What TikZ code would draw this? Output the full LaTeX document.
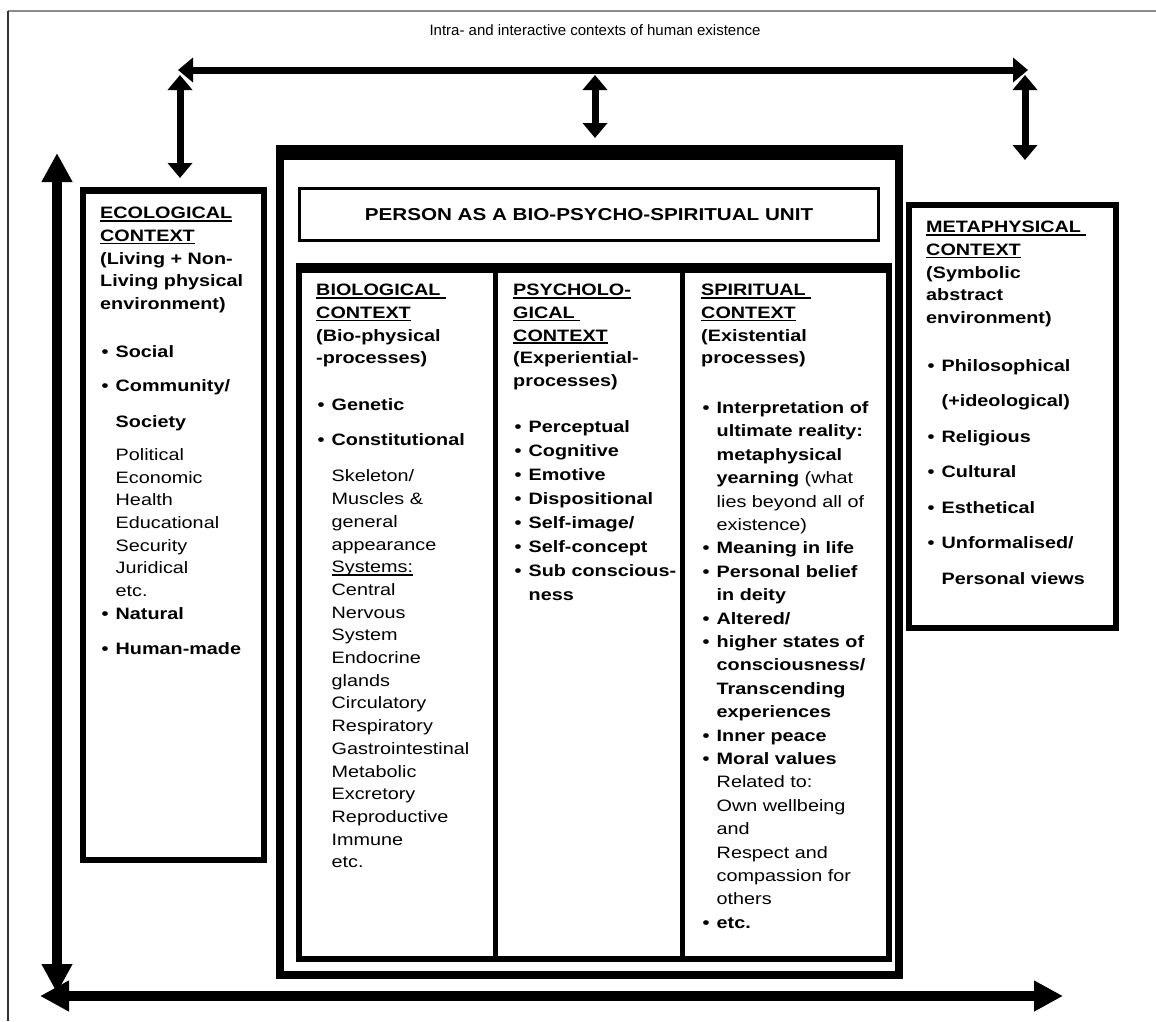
\documentclass[tikz,border=0pt]{standalone}
\usepackage{fontspec}
\setmainfont{Liberation Sans}[FakeStretch=1.2]
\newfontfamily\narrowsans{Liberation Sans}
\usetikzlibrary{arrows.meta}

\newcommand\ulhead[1]{\setbox0\hbox{#1}\rlap{\rule[-2.8pt]{\wd0}{1.5pt}}\box0}
\newcommand\bul{\makebox[15.5pt][l]{\hspace{1.5pt}\textbullet}}
\newcommand\itemind{\hspace*{15.5pt}}
\newcommand\regtxt[1]{{\mdseries #1}}

\begin{document}
\begin{tikzpicture}[
						x=1pt, y=-1pt,
						ctx/.style={anchor=north west, inner sep=0pt, align=left,
							font=\bfseries\fontsize{16.5}{22.7}\selectfont},
						smallarrow/.style={{Triangle[width=24pt,length=15pt]}-{Triangle[width=24pt,length=15pt]}, line width=7pt},
						bigarrow/.style={{Triangle[width=29pt,length=29pt]}-{Triangle[width=29pt,length=29pt]}, line width=10.5pt}
						]
						
						\useasboundingbox (0,0) rectangle (1156,1021);
						\draw[black!45, line width=2pt] (8,11) -- (1156,11);
						\draw[black!80, line width=1.2pt] (8,11) -- (8,1021);
						
						\node[font=\narrowsans\fontsize{15}{18}\selectfont] (heading) at (595,30) {Intra- and interactive contexts of human existence};
						
						% arrows
						\coordinate (topL) at (178,70);
						\coordinate (topR) at (1028,70);
						\coordinate (ecoT) at (180,75);
						\coordinate (ecoB) at (180,178);
						\coordinate (midT) at (595,75);
						\coordinate (midB) at (595,138);
						\coordinate (metT) at (1025,75);
						\coordinate (metB) at (1025,160);
						\coordinate (axisT) at (57,153);
						\coordinate (axisB) at (57,993);
						\coordinate (axisL) at (40,996);
						\coordinate (axisR) at (1063,996);
						
						\draw[smallarrow] (topL) -- (topR);
						\draw[smallarrow] (ecoT) -- (ecoB);
						\draw[smallarrow] (midT) -- (midB);
						\draw[smallarrow] (metT) -- (metB);
						\draw[bigarrow] (axisT) -- (axisB);
						\draw[bigarrow] (axisL) -- (axisR);
						
						% boxes
						\draw[line width=6.5pt] (83,190.5) rectangle (264,860);
						\draw[line width=6pt] (909,205) rectangle (1116,628);
						\draw[line width=8pt] (280,150) rectangle (899,975);
						\fill (276,145) rectangle (903,160);
						\draw[line width=3pt] (299.5,188.5) rectangle (878.5,240.5);
						\draw[line width=6pt] (299,268) rectangle (888.5,959);
						\fill (296,263) rectangle (892,273);
						\draw[line width=5pt] (495.5,268) -- (495.5,959);
						\draw[line width=5pt] (682.5,268) -- (682.5,959);
						
						\node[font=\bfseries\fontsize{17.2}{20}\selectfont] (unit) at (589,215) {PERSON AS A BIO-PSYCHO-SPIRITUAL UNIT};
						
						\node[ctx] (eco) at (100,207) {\ulhead{ECOLOGICAL}\\
							\ulhead{CONTEXT}\\
							(Living + Non-\\
							Living physical\\
							environment)\\[25pt]
							\bul Social\\[12pt]
							\bul Community/\\[13pt]
							\itemind Society\\[10pt]
							\itemind\regtxt{Political}\\
							\itemind\regtxt{Economic}\\
							\itemind\regtxt{Health}\\
							\itemind\regtxt{Educational}\\
							\itemind\regtxt{Security}\\
							\itemind\regtxt{Juridical}\\
							\itemind\regtxt{etc.}\\
							\bul Natural\\[13pt]
							\bul Human-made};
						
						\node[ctx] (bio) at (316,284) {\ulhead{BIOLOGICAL\ }\\
							\ulhead{CONTEXT}\\
							(Bio-physical\\
							-processes)\\[24pt]
							\bul Genetic\\[12pt]
							\bul Constitutional\\[14pt]
							\itemind\regtxt{Skeleton/}\\
							\itemind\regtxt{Muscles \&}\\
							\itemind\regtxt{general}\\
							\itemind\regtxt{appearance}\\
							\itemind\regtxt{\ulhead{Systems:}}\\
							\itemind\regtxt{Central}\\
							\itemind\regtxt{Nervous}\\
							\itemind\regtxt{System}\\
							\itemind\regtxt{Endocrine}\\
							\itemind\regtxt{glands}\\
							\itemind\regtxt{Circulatory}\\
							\itemind\regtxt{Respiratory}\\
							\itemind\regtxt{Gastrointestinal}\\
							\itemind\regtxt{Metabolic}\\
							\itemind\regtxt{Excretory}\\
							\itemind\regtxt{Reproductive}\\
							\itemind\regtxt{Immune}\\
							\itemind\regtxt{etc.}};
						
						\node[ctx] (psy) at (513,284) {\ulhead{PSYCHOLO-}\\
							\ulhead{GICAL\ }\\
							\ulhead{CONTEXT}\\
							(Experiential-\\
							processes)\\[23pt]
							\bul Perceptual\\[1.4pt]
							\bul Cognitive\\[1.4pt]
							\bul Emotive\\[1.4pt]
							\bul Dispositional\\[1.4pt]
							\bul Self-image/\\[1.4pt]
							\bul Self-concept\\[1.4pt]
							\bul Sub conscious-\\[1.4pt]
							\itemind ness};
						
						\node[ctx] (spi) at (701,284) {\ulhead{SPIRITUAL\ }\\
							\ulhead{CONTEXT}\\
							(Existential\\
							processes)\\[27pt]
							\bul Interpretation of\\[0.7pt]
							\itemind ultimate reality:\\[0.7pt]
							\itemind metaphysical\\[0.7pt]
							\itemind yearning \regtxt{(what}\\[0.7pt]
							\itemind\regtxt{lies beyond all of}\\[0.7pt]
							\itemind\regtxt{existence)}\\[0.7pt]
							\bul Meaning in life\\[0.7pt]
							\bul Personal belief\\[0.7pt]
							\itemind in deity\\[0.7pt]
							\bul Altered/\\[0.7pt]
							\bul higher states of\\[0.7pt]
							\itemind consciousness/\\[0.7pt]
							\itemind Transcending\\[0.7pt]
							\itemind experiences\\[0.7pt]
							\bul Inner peace\\[0.7pt]
							\bul Moral values\\[0.7pt]
							\itemind\regtxt{Related to:}\\[0.7pt]
							\itemind\regtxt{Own wellbeing}\\[0.7pt]
							\itemind\regtxt{and}\\[0.7pt]
							\itemind\regtxt{Respect and}\\[0.7pt]
							\itemind\regtxt{compassion for}\\[0.7pt]
							\itemind\regtxt{others}\\[0.7pt]
							\bul etc.};
						
						\node[ctx] (meta) at (926,221) {\ulhead{METAPHYSICAL\ }\\
							\ulhead{CONTEXT}\\
							(Symbolic\\
							abstract\\
							environment)\\[25pt]
							\bul Philosophical\\[12.8pt]
							\itemind (+ideological)\\[12.8pt]
							\bul Religious\\[12.8pt]
							\bul Cultural\\[12.8pt]
							\bul Esthetical\\[12.8pt]
							\bul Unformalised/\\[12.8pt]
							\itemind Personal views};
						
					\end{tikzpicture}
\end{document}
